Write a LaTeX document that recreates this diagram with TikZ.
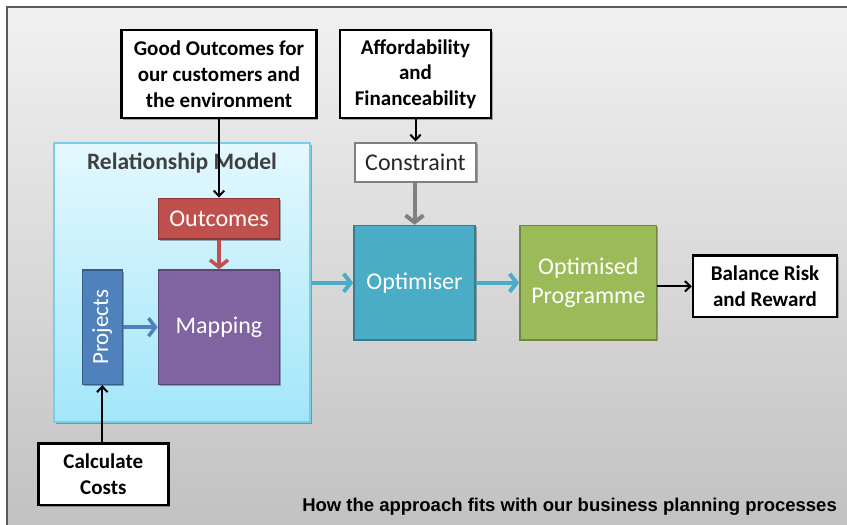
\documentclass[tikz,border=0pt]{standalone}
\usepackage{fontspec}
\setmainfont{Carlito}
\newfontfamily\capfont{Liberation Sans}
\usetikzlibrary{arrows.meta,shadows}

\definecolor{frameTop}{HTML}{F1F1F1}
\definecolor{frameBot}{HTML}{C1C1C1}
\definecolor{frameLine}{HTML}{5A5A5A}
\definecolor{relTop}{HTML}{E4F8FE}
\definecolor{relBot}{HTML}{A2E6F9}
\definecolor{relLine}{HTML}{7ACDE2}
\definecolor{redFill}{HTML}{C0504D}
\definecolor{redLine}{HTML}{8C3836}
\definecolor{purpleFill}{HTML}{8064A2}
\definecolor{purpleLine}{HTML}{5C4776}
\definecolor{blueFill}{HTML}{4F81BD}
\definecolor{blueLine}{HTML}{385D8A}
\definecolor{aquaFill}{HTML}{4BACC6}
\definecolor{aquaLine}{HTML}{357D91}
\definecolor{greenFill}{HTML}{9BBB59}
\definecolor{greenLine}{HTML}{71893F}
\definecolor{greyLine}{HTML}{808080}
\definecolor{titleGrey}{HTML}{404040}

\tikzset{
  softshadow/.style={drop shadow={shadow xshift=1.5pt, shadow yshift=-1.5pt, opacity=0.3, fill=black}},
  whitebox/.style={draw=black, line width=2.4pt, fill=white, align=center, inner sep=0pt,
    font=\fontsize{21}{25.7}\selectfont\bfseries, softshadow},
  colbox/.style={line width=1.6pt, align=center, inner sep=0pt, text=white,
    font=\fontsize{24}{28.5}\selectfont, softshadow},
  thinarrow/.style={draw=black, line width=2pt, -{Straight Barb[length=5.5pt,width=10.5pt]}},
  thickarrow/.style={line width=4pt, -{Straight Barb[length=7pt,width=18pt]}},
}

\begin{document}
\begin{tikzpicture}[x=1pt,y=1pt]
\useasboundingbox (0,0) rectangle (847,-525);
\fill[white] (0,0) rectangle (847,-525);

% backdrop panel
\shade[top color=frameTop, bottom color=frameBot] (7,-7) rectangle (852,-532);
\draw[frameLine, line width=2pt] (7,-532) -- (7,-7) -- (852,-7);

% relationship model container
\node[draw=relLine, line width=1.5pt, top color=relTop, bottom color=relBot,
      minimum width=256, minimum height=279, inner sep=0pt, softshadow] (relm) at (182,-282.5) {};
\node[text=titleGrey, font=\fontsize{23.5}{28}\selectfont\bfseries] (reltitle) at (182,-163) {Relationship Model};

% inputs
\node[whitebox, minimum width=195, minimum height=88] (good) at (219,-74.2)
  {Good Outcomes for\\our customers and\\the environment};
\node[whitebox, minimum width=151, minimum height=88] (afford) at (415.5,-74.2)
  {Affordability\\and\\Financeability};
\node[whitebox, minimum width=130, minimum height=61.7] (calc) at (103.3,-474.2)
  {Calculate\\Costs};

% inner boxes
\node[colbox, draw=redLine, fill=redFill, minimum width=121, minimum height=40.7] (outc) at (219,-218.7) {Outcomes};
\node[colbox, draw=purpleLine, fill=purpleFill, minimum width=121, minimum height=114.3] (mapp) at (219,-327.2) {Mapping};
\node[colbox, draw=blueLine, fill=blueFill, rotate=90, minimum width=114.3, minimum height=40,
      font=\fontsize{23}{27}\selectfont] (proj) at (102.3,-327.2) {Projects};

% constraint and optimisation
\node[draw=greyLine, line width=2.4pt, fill=white, minimum width=121, minimum height=39, inner sep=0pt,
      text=black!85, font=\fontsize{24}{28}\selectfont, softshadow] (cons) at (415.5,-162.2) {Constraint};
\node[colbox, draw=aquaLine, fill=aquaFill, minimum width=121, minimum height=114.3] (optr) at (414.5,-282.8) {Optimiser};
\node[colbox, draw=greenLine, fill=greenFill, minimum width=136.7, minimum height=114.3] (optp) at (588.3,-282.8)
  {Optimised\\Programme};
\node[whitebox, minimum width=144, minimum height=61.3] (bal) at (765,-286.3)
  {Balance Risk\\and Reward};

% connectors
\draw[thinarrow] (good.south -| outc.north) -- (outc.north);
\draw[thinarrow] (afford.south -| cons.north) -- (cons.north);
\draw[thinarrow] (calc.north -| proj.west) -- (proj.west);
\draw[thickarrow, draw=redFill, line width=3.5pt] (outc.south) -- (mapp.north);
\draw[thickarrow, draw=blueFill, line width=3.5pt] (proj.south) -- (mapp.west);
\draw[thickarrow, draw=greyLine] (cons.south -| optr.north) -- (optr.north);
\draw[thickarrow, draw=aquaFill] (relm.east |- optr.west) -- (optr.west);
\draw[thickarrow, draw=aquaFill] (optr.east) -- (optp.west);
\draw[thinarrow] (optp.east |- bal.west) -- (bal.west);

% caption
\node[anchor=base east, inner sep=0pt, font=\capfont\fontsize{18.5}{21}\selectfont\bfseries] (caption) at (837,-511.5)
  {How the approach fits with our business planning processes};
\end{tikzpicture}
\end{document}
